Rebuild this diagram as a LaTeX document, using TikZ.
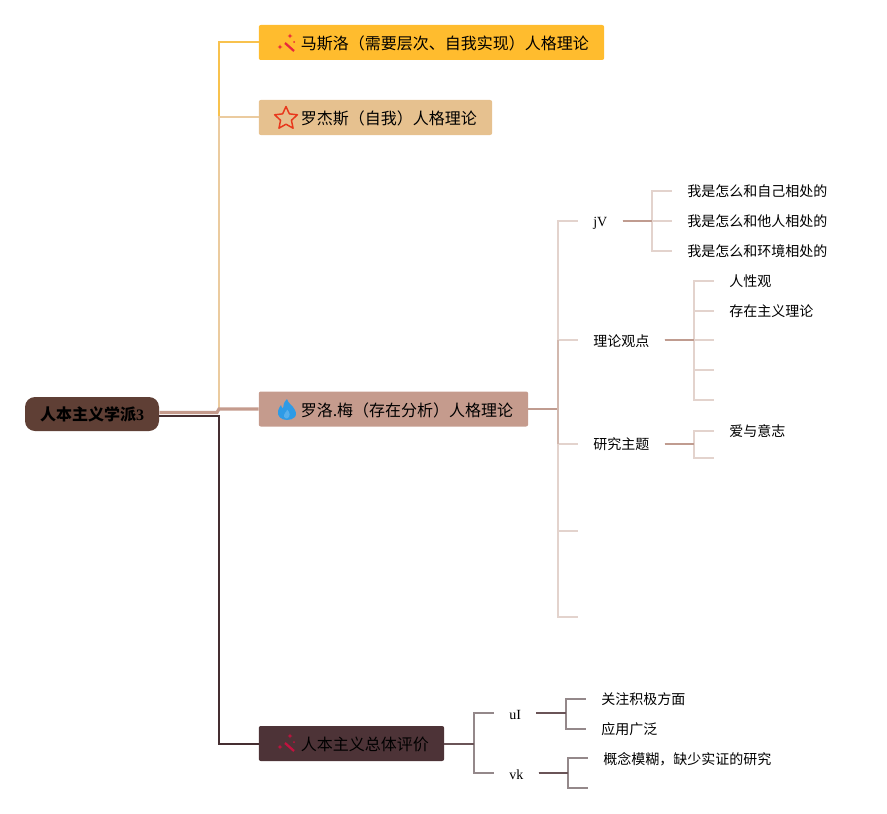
\documentclass[tikz,border=0pt]{standalone}
\usepackage{fontspec}
\setmainfont{Liberation Serif}
\newfontfamily\cjk{Noto Sans CJK SC}
\usetikzlibrary{shapes.geometric,calc}
\definecolor{rootfill}{HTML}{5F3F35}
\definecolor{maslowfill}{HTML}{FFBC2E}
\definecolor{rogersfill}{HTML}{E6C18F}
\definecolor{mayfill}{HTML}{C59B8D}
\definecolor{totalfill}{HTML}{4D3337}
\definecolor{maslowline}{HTML}{F8C24E}
\definecolor{rogersline}{HTML}{EBCB9F}
\definecolor{maydark}{HTML}{C09C90}
\definecolor{maylight}{HTML}{E3D3CD}
\definecolor{totaldark}{HTML}{6A5457}
\definecolor{totallight}{HTML}{94888A}
\definecolor{wandred}{HTML}{E8283C}
\definecolor{wanddeep}{HTML}{C2123F}
\definecolor{staredge}{HTML}{E8381C}
\definecolor{flameblue}{HTML}{2E9BE6}
\tikzset{
  topicbox/.style={minimum height=26.25pt, inner xsep=0pt, inner ysep=0pt, text height=11pt, text depth=0.4pt, text width=#1, align=left, anchor=west, rounded corners=1.5pt, font=\cjk\fontsize{12}{14}\selectfont},
  sublabel/.style={anchor=west, inner xsep=11.25pt, inner ysep=0pt, text height=9.5pt, text depth=0.5pt, font=\cjk\fontsize{10.5}{12}\selectfont},
  latinlabel/.style={sublabel, font=\fontsize{10.5}{12}\selectfont},
  wandicon/.pic={
    \draw[#1, line width=1.7pt] (-2,0) -- (7,8);
    \fill[#1] (3,-9.5) -- (3.7,-7.7) -- (5.5,-7) -- (3.7,-6.3) -- (3,-4.5) -- (2.3,-6.3) -- (.5,-7) -- (2.3,-7.7) -- cycle;
    \fill[#1] (-7,1.5) -- (-6.3,3.3) -- (-4.5,4) -- (-6.3,4.7) -- (-7,6.5) -- (-7.7,4.7) -- (-9.5,4) -- (-7.7,3.3) -- cycle;
    \fill[#1] (7,-1) circle (1);
  }
}
\begin{document}
\begin{tikzpicture}[x=0.75pt, y=-0.75pt]
\useasboundingbox (0,0) rectangle (887,813);
% main topics
\node[fill=rootfill, rounded corners=7.5pt, minimum width=100.5pt, minimum height=25.5pt, inner sep=0pt, font=\cjk\bfseries\fontsize{12}{14}\selectfont] (root) at (92,414) {\raisebox{-0.6pt}{人本主义学派{\rmfamily 3}}};
\node[topicbox=259pt, fill=maslowfill] (maslow) at (258.5,42.5) {\hspace*{31.5pt}马斯洛（需要层次、自我实现）人格理论};
\node[topicbox=175pt, fill=rogersfill] (rogers) at (258.5,117.5) {\hspace*{31.5pt}罗杰斯（自我）人格理论};
\node[topicbox=202pt, fill=mayfill] (may) at (258.5,409) {\hspace*{31.5pt}罗洛.梅（存在分析）人格理论};
\node[topicbox=139pt, fill=totalfill] (total) at (258.5,743.5) {\hspace*{31.5pt}人本主义总体评价};
% icons
\pic at (287,43) {wandicon=wandred};
\pic at (287,743) {wandicon=wanddeep};
\node[star, star points=5, star point ratio=2.1, draw=staredge, line width=1.1pt, line join=round, minimum size=18pt, inner sep=0pt] (rogersstar) at (286,118.5) {};
\fill[flameblue] (287,420) .. controls (281,420) and (277,416) .. (278,411) .. controls (278.5,408) and (280,407) .. (281,405) .. controls (281.5,407) and (282,408) .. (283,408.5) .. controls (283,405) and (284,402) .. (287,399) .. controls (288,403) and (291,404) .. (293,407) .. controls (296,411) and (297,414) .. (295,417) .. controls (293,419) and (290,420) .. (287,420) -- cycle;
\fill[flameblue!80!white] (287,418.5) .. controls (284,418.5) and (283,415.5) .. (285,413) .. controls (286,412) and (287,411) .. (287,409.5) .. controls (290,412) and (291,417) .. (287,418.5) -- cycle;
% first level
\coordinate (hub) at (219,411);
\draw[maslowline, line width=1.5pt] (hub) |- (maslow.west);
\draw[rogersline, line width=1.5pt] (hub) |- (rogers.west);
\draw[totalfill!90!black, line width=1.5pt] (root.east) ++(0,1.5) -| (219,500) |- (total.west);
\draw[mayfill, line width=2.4pt] (root.east) ++(0,-1.5) -- (217,412.5) -- (219,409) -- (may.west);
% second level under may
\node[latinlabel] (jv) at (578,220.5) {jV};
\node[sublabel] (views) at (578,340) {理论观点};
\node[sublabel] (topics) at (578,443.5) {研究主题};
\coordinate (mayfour) at (578,531);
\coordinate (mayfive) at (578,617);
\foreach \nm in {jv, views, topics, mayfour, mayfive}{
  \draw[maylight, line width=1.5pt] (may.east) -- (558,409) |- (\nm.west);
}
\draw[maydark, line width=1.5pt] (may.east) -- (558,409);
\draw[maylight!50!maydark, line width=1.5pt] (558,340) -- (558,444);
% leaves of jv
\foreach \y/\lbl/\nm in {190.5/我是怎么和自己相处的/self, 220.5/我是怎么和他人相处的/others, 250.5/我是怎么和环境相处的/world}{
  \node[sublabel] (\nm) at (672,\y) {\lbl};
  \draw[maylight, line width=1.5pt] (jv.east) -- (652,220.5) |- (\nm.west);
}
\draw[maydark, line width=1.5pt] (jv.east) -- (652,220.5);
% leaves of views
\node[sublabel] (nature) at (714,280.5) {人性观};
\node[sublabel] (exist) at (714,310.5) {存在主义理论};
\coordinate (viewthree) at (714,340);
\coordinate (viewfour) at (714,370);
\coordinate (viewfive) at (714,400);
\foreach \nm in {nature, exist, viewthree, viewfour, viewfive}{
  \draw[maylight, line width=1.5pt] (views.east) -- (694,340) |- (\nm.west);
}
\draw[maydark, line width=1.5pt] (views.east) -- (694,340);
% leaves of topics
\node[sublabel] (love) at (714,430.5) {爱与意志};
\coordinate (topictwo) at (714,458);
\foreach \nm in {love, topictwo}{
  \draw[maylight, line width=1.5pt] (topics.east) -- (694,443.5) |- (\nm.west);
}
\draw[maydark, line width=1.5pt] (topics.east) -- (694,443.5);
% second level under total
\node[latinlabel] (ui) at (494,713) {uI};
\node[latinlabel] (vk) at (494,773) {vk};
\foreach \nm in {ui, vk}{
  \draw[totallight, line width=1.5pt] (total.east) -- (474,743.5) |- (\nm.west);
}
\draw[totaldark, line width=1.5pt] (total.east) -- (474,743.5);
% leaves of total
\node[sublabel] (positive) at (586,698.5) {关注积极方面};
\node[sublabel] (applied) at (586,728.5) {应用广泛};
\foreach \nm in {positive, applied}{
  \draw[totallight, line width=1.5pt] (ui.east) -- (566,713) |- (\nm.west);
}
\draw[totaldark, line width=1.5pt] (ui.east) -- (566,713);
\node[sublabel] (vague) at (588,758) {概念模糊，缺少实证的研究};
\coordinate (vktwo) at (588,788);
\foreach \nm in {vague, vktwo}{
  \draw[totallight, line width=1.5pt] (vk.east) -- (568,773) |- (\nm.west);
}
\draw[totaldark, line width=1.5pt] (vk.east) -- (568,773);
\end{tikzpicture}
\end{document}
